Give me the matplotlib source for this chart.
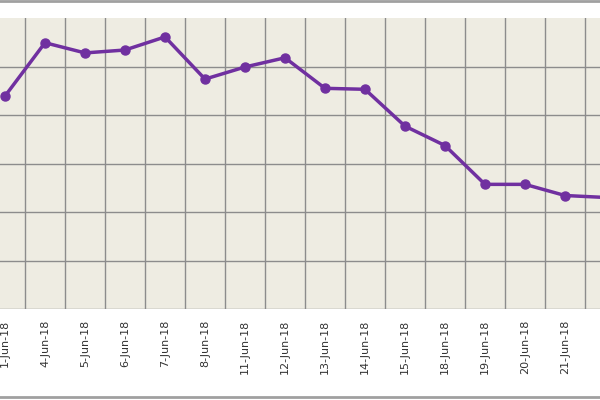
import matplotlib
matplotlib.use("Agg")
import matplotlib.pyplot as plt
from matplotlib.lines import Line2D

dates = ["1-Jun-18","4-Jun-18","5-Jun-18","6-Jun-18","7-Jun-18","8-Jun-18","11-Jun-18",
         "12-Jun-18","13-Jun-18","14-Jun-18","15-Jun-18","18-Jun-18","19-Jun-18",
         "20-Jun-18","21-Jun-18","22-Jun-18"]
values = [4.39,5.49,5.28,5.34,5.61,4.74,4.99,5.18,4.55,4.53,3.77,3.37,2.57,2.57,2.34,2.30]

fig = plt.figure(figsize=(6,4), dpi=100)
ax = fig.add_axes([0, 1-309/400, 1, (309-18)/400])
ax.set_facecolor("#EEECE2")
x = list(range(len(values)))
ax.plot(x, values, color="#7030A0", lw=2.5, marker="o", ms=6.5, zorder=3, clip_on=True)
ax.set_xticks(x)
ax.set_xticklabels(dates, rotation=90, fontsize=8, color="#333333", va="top")
ax.set_xticks([i+0.5 for i in range(-1, 16)], minor=True)
ax.set_yticks([0,1,2,3,4,5])
ax.set_yticklabels([])
ax.set_xlim(-0.125, 14.875)
ax.set_ylim(0, 6)
ax.tick_params(axis="both", which="both", length=0, pad=8)
ax.grid(True, which="minor", axis="x", color="#8C8C8C", lw=1)
ax.grid(True, which="major", axis="y", color="#8C8C8C", lw=1)
for s in ax.spines.values():
    s.set_visible(False)
fig.add_artist(Line2D([0,1],[0.998,0.998], color="#A0A0A0", lw=2, transform=fig.transFigure))
fig.add_artist(Line2D([0,1],[1-397/400,1-397/400], color="#A0A0A0", lw=2, transform=fig.transFigure))
fig.savefig("out.png", dpi=100)
